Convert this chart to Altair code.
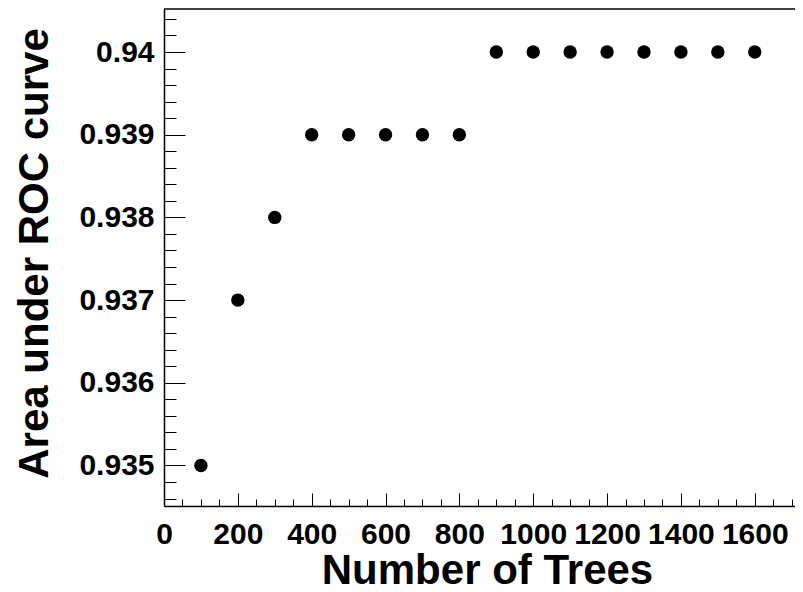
import altair as alt
import pandas as pd

# Data
trees = [100, 200, 300, 400, 500, 600, 700, 800, 900, 1000, 1100, 1200, 1300, 1400, 1500, 1600]
auc = [0.935, 0.937, 0.938, 0.939, 0.939, 0.939, 0.939, 0.939,
       0.940, 0.940, 0.940, 0.940, 0.940, 0.940, 0.940, 0.940]

# Tick positions (majors + minors)
x_ticks = list(range(0, 1701, 50))
y_ticks = [0.9346, 0.9348, 0.9350, 0.9352, 0.9354, 0.9356, 0.9358, 0.9360,
           0.9362, 0.9364, 0.9366, 0.9368, 0.9370, 0.9372, 0.9374, 0.9376,
           0.9378, 0.9380, 0.9382, 0.9384, 0.9386, 0.9388, 0.9390, 0.9392,
           0.9394, 0.9396, 0.9398, 0.9400, 0.9402, 0.9404]

x_domain = [0, 1709]
y_domain = [0.93451, 0.94052]

W = 631
H = 497
FONT = "Liberation Sans"

df = pd.DataFrame({"trees": trees, "auc": auc})

x_axis = alt.Axis(
    values=x_ticks,
    labelExpr="datum.value % 200 === 0 ? format(datum.value, 'd') : ''",
    tickSize={"expr": "datum.value % 200 === 0 ? -13 : -7"},
    labelPadding=26,
    labelFlush=False,
    labelOverlap=False,
    grid=False,
    title="Number of Trees",
    titleX=323,
    titleY=77,
    titleAlign="center",
    titleBaseline="alphabetic",
)

y_axis = alt.Axis(
    values=y_ticks,
    labelExpr="round(datum.value * 10000) % 10 === 0 ? format(datum.value, '.3~f') : ''",
    tickSize={"expr": "round(datum.value * 10000) % 10 === 0 ? -21 : -12"},
    labelPadding=31,
    labelBaseline="middle",
    labelAlign="right",
    labelFlush=False,
    labelOverlap=False,
    grid=False,
    title="Area under ROC curve",
    titleAngle=270,
    titleX=-117,
    titleY=244,
    titleAlign="center",
    titleBaseline="alphabetic",
)

points = alt.Chart(df).mark_circle(size=180, color="black", opacity=1).encode(
    x=alt.X("trees:Q", scale=alt.Scale(domain=x_domain, nice=False, zero=False), axis=x_axis),
    y=alt.Y("auc:Q", scale=alt.Scale(domain=y_domain, nice=False, zero=False), axis=y_axis),
)

frame = alt.Chart(pd.DataFrame({"a": [0]})).mark_rule(color="black", strokeWidth=1.5).encode(
    x=alt.value(0), x2=alt.value(W), y=alt.value(0)
)

chart = alt.layer(points, frame).properties(
    width=W,
    height=H,
    autosize=alt.AutoSizeParams(type="none"),
    padding={"left": 156, "top": 1, "right": 0, "bottom": 78},
).configure_view(stroke=None).configure_axis(
    domainColor="black",
    domainWidth=1.5,
    tickColor="black",
    tickWidth=1,
    labelFont=FONT,
    labelFontWeight="bold",
    labelFontSize=30,
    labelColor="black",
    titleFont=FONT,
    titleFontWeight="bold",
    titleFontSize=42,
    titleColor="black",
)

chart.save("out.html", embed_options={"renderer": "svg", "actions": False})
